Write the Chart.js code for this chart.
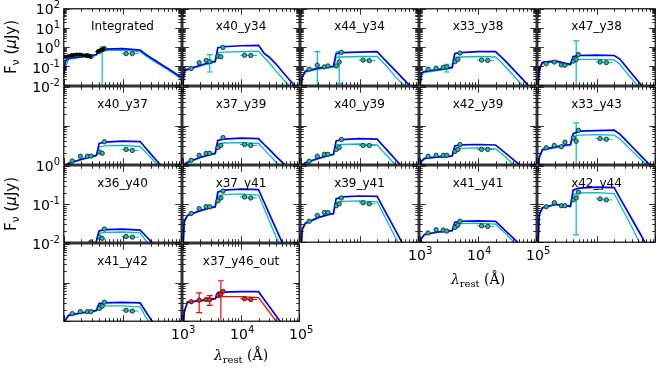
<!DOCTYPE html>
<html>
<head>
<meta charset="utf-8">
<script src="https://cdn.jsdelivr.net/npm/chart.js@4.4.1/dist/chart.umd.min.js"></script>
<style>
  body { margin: 0; width: 664px; height: 370px; background: #fff; position: relative; overflow: hidden;
         font-family: "DejaVu Sans", sans-serif; color: #000; }
  canvas { position: absolute; }
  .txt { position: absolute; white-space: nowrap; }
  .sup { font-size: 10px; position: relative; top: -6px; }
  .ttl { font-size: 12px; line-height: 12px; transform: translateX(-50%); }
  .tick { font-size: 14px; line-height: 14px; }
  .ylab { font-size: 15px; line-height: 16px; transform: translate(-50%, -50%) rotate(-90deg); }
  .xlab { font-family: "DejaVu Serif", serif; font-size: 14px; line-height: 16px; transform: translateX(-50%); }
  .xlab sub { font-size: 10px; vertical-align: -3px; }
  .ylab sub { font-size: 11px; vertical-align: -3px; }
</style>
</head>
<body>
<script>
// model wavelength grid (Å, rest frame) and photometric band centres / edges
const wave = [1000, 1060, 1200, 2000, 3000, 3600, 3800, 4000, 5000, 10000, 20000, 25000, 30000, 40000, 60000, 100000];
const bands = [1390, 1910, 2520, 2900, 4030, 4510, 4910, 11500, 14700];
const bandLo = [1300, 1780, 2380, 2750, 3800, 4300, 4700, 9600, 12600];
const bandHi = [1480, 2050, 2680, 3050, 4250, 4720, 5150, 13200, 18800];

// integrated photometry (black points)
const intWave = [1080, 1200, 1350, 1500, 1650, 1850, 2050, 2300, 2550, 2800, 3750, 4050, 4400, 4750];
const intFlux = [0.30, 0.34, 0.36, 0.38, 0.40, 0.40, 0.38, 0.36, 0.35, 0.33, 0.57, 0.65, 0.72, 0.81];

// m_ = blue model, c_ = cyan (red) model, p_ = measured points, e_ = error bars [wave, low, high]
const m_int = [0.0385, 0.177, 0.252, 0.319, 0.358, 0.403, 0.573, 0.683, 0.768, 0.814, 0.683, 0.403, 0.283, 0.158, 0.073, 0.026];
const c_int = [0.030, 0.087, 0.224, 0.283, 0.319, 0.358, 0.48, 0.573, 0.644, 0.683, 0.573, 0.338, 0.238, 0.132, 0.062, 0.0215];
const p_int = [0.358, 0.358, 0.358, 0.318, 0.573, 0.724, 0.814, 0.453, 0.453];
const e_int = [[4510, 0.001, 1.03]];

const m_x40_y34 = [0.008, 0.055, 0.069, 0.111, 0.158, 0.177, 0.403, 0.916, 1.03, 1.16, 1.23, 0.466, 0.309, 0.128, 0.0296, 0.005];
const c_x40_y34 = [0.008, 0.049, 0.062, 0.099, 0.14, 0.158, 0.283, 0.51, 0.54, 0.57, 0.607, 0.283, 0.158, 0.055, 0.0135, 0.003];
const p_x40_y34 = [0.075, 0.152, 0.199, 0.171, 0.330, 0.308, 0.948, 0.371, 0.358];
const e_x40_y34 = [[2900, 0.049, 0.40]];

const m_x44_y34 = [0.005, 0.027, 0.055, 0.078, 0.093, 0.098, 0.224, 0.453, 0.509, 0.54, 0.573, 0.275, 0.153, 0.062, 0.017, 0.003];
const c_x44_y34 = [0.005, 0.025, 0.049, 0.069, 0.082, 0.087, 0.158, 0.283, 0.30, 0.318, 0.318, 0.158, 0.087, 0.030, 0.0085, 0.002];
const p_x44_y34 = [0.069, 0.111, 0.091, 0.102, 0.102, 0.163, 0.527, 0.206, 0.192];
const e_x44_y34 = [[1910, 0.005, 0.573], [4510, 0.012, 0.573]];

const m_x33_y38 = [0.005, 0.043, 0.052, 0.066, 0.078, 0.087, 0.224, 0.453, 0.51, 0.573, 0.573, 0.30, 0.177, 0.069, 0.019, 0.003];
const c_x33_y38 = [0.005, 0.035, 0.046, 0.058, 0.069, 0.078, 0.158, 0.283, 0.30, 0.318, 0.30, 0.158, 0.087, 0.034, 0.0085, 0.002];
const p_x33_y38 = [0.069, 0.078, 0.085, 0.091, 0.171, 0.224, 0.48, 0.206, 0.199];
const e_x33_y38 = [[2900, 0.049, 0.125]];

const m_x47_y38 = [0.005, 0.069, 0.158, 0.188, 0.14, 0.125, 0.199, 0.318, 0.358, 0.38, 0.358, 0.234, 0.118, 0.040, 0.009, 0.002];
const c_x47_y38 = [0.005, 0.06, 0.14, 0.167, 0.125, 0.111, 0.158, 0.211, 0.224, 0.224, 0.211, 0.125, 0.062, 0.0215, 0.005, 0.001];
const p_x47_y38 = [0.135, 0.163, 0.115, 0.111, 0.183, 0.224, 0.403, 0.163, 0.152];
const e_x47_y38 = [[4510, 0.005, 2.08]];

const m_x40_y37 = [0.5, 0.9, 1.06, 1.34, 1.6, 1.70, 2.41, 3.43, 3.74, 3.97, 3.85, 2.59, 1.88, 1.14, 0.57, 0.23];
const c_x40_y37 = [0.5, 0.8, 1.03, 1.30, 1.55, 1.65, 2.14, 2.79, 2.96, 3.05, 2.87, 2.02, 1.51, 0.94, 0.5, 0.2];
const p_x40_y37 = [1.21, 1.60, 1.60, 1.62, 2.06, 1.91, 3.79, 2.41, 2.27];

const m_x37_y39 = [0.5, 1.0, 1.12, 1.51, 1.80, 1.91, 2.87, 4.09, 4.46, 4.73, 4.59, 3.23, 2.48, 1.60, 0.89, 0.3];
const c_x37_y39 = [0.5, 0.9, 1.09, 1.46, 1.75, 1.85, 2.56, 3.33, 3.53, 3.63, 3.43, 2.41, 1.80, 1.12, 0.6, 0.25];
const p_x37_y39 = [1.26, 1.70, 1.91, 1.91, 2.71, 3.05, 4.87, 3.23, 3.05];

const m_x40_y39 = [0.5, 0.95, 1.09, 1.42, 1.70, 1.80, 2.71, 3.97, 4.33, 4.59, 4.46, 3.05, 2.25, 1.38, 0.70, 0.25];
const c_x40_y39 = [0.5, 0.9, 1.06, 1.38, 1.65, 1.75, 2.41, 3.14, 3.23, 3.33, 3.14, 2.14, 1.60, 1.0, 0.55, 0.2];
const p_x40_y39 = [1.19, 1.60, 1.80, 1.80, 2.41, 2.71, 4.33, 3.05, 3.05];

const m_x42_y39 = [0.5, 1.19, 1.42, 1.55, 1.60, 1.65, 2.27, 2.96, 3.14, 3.23, 3.14, 2.38, 1.91, 1.33, 0.81, 0.3];
const c_x42_y39 = [0.5, 1.1, 1.38, 1.51, 1.55, 1.60, 2.02, 2.48, 2.56, 2.63, 2.48, 1.91, 1.51, 1.0, 0.6, 0.25];
const p_x42_y39 = [1.60, 1.70, 1.70, 1.70, 2.14, 2.41, 3.23, 2.41, 2.41];

const m_x33_y43 = [0.5, 1.51, 2.41, 2.79, 3.14, 3.23, 4.59, 6.16, 7.13, 7.34, 7.56, 5.98, 4.49, 2.87, 1.53, 0.69];
const c_x33_y43 = [0.5, 1.4, 2.27, 2.63, 2.96, 3.05, 3.97, 5.02, 5.64, 5.81, 5.64, 4.46, 3.43, 2.21, 1.23, 0.59];
const p_x33_y43 = [2.66, 3.05, 2.83, 3.70, 4.79, 3.92, 7.5, 4.59, 4.41];
const e_x33_y43 = [[4510, 0.5, 11.7]];

const m_x36_y40 = [0.002, 0.002, 0.003, 0.004, 0.006, 0.0109, 0.0155, 0.0197, 0.0214, 0.0221, 0.0208, 0.0145, 0.0108, 0.0068, 0.004, 0.002];
const c_x36_y40 = [0.002, 0.002, 0.003, 0.004, 0.0055, 0.0105, 0.0138, 0.0170, 0.0180, 0.0185, 0.0175, 0.0109, 0.0079, 0.005, 0.003, 0.002];
const p_x36_y40 = [0.005, 0.006, 0.007, 0.0101, 0.0136, 0.0126, 0.0221, 0.0141, 0.0136];

const m_x37_y41 = [0.005, 0.0353, 0.0502, 0.0673, 0.0803, 0.0851, 0.128, 0.205, 0.231, 0.245, 0.238, 0.111, 0.0595, 0.0223, 0.0057, 0.001];
const c_x37_y41 = [0.005, 0.033, 0.0487, 0.0653, 0.0778, 0.0825, 0.114, 0.162, 0.177, 0.183, 0.172, 0.076, 0.0392, 0.0138, 0.004, 0.001];
const p_x37_y41 = [0.0565, 0.0757, 0.0851, 0.0851, 0.121, 0.144, 0.218, 0.153, 0.144];

const m_x39_y41 = [0.004, 0.0221, 0.0314, 0.0446, 0.0532, 0.0565, 0.0903, 0.136, 0.153, 0.162, 0.158, 0.0832, 0.0496, 0.0219, 0.0069, 0.0015];
const c_x39_y41 = [0.004, 0.021, 0.0305, 0.0433, 0.0517, 0.0548, 0.0778, 0.108, 0.117, 0.121, 0.114, 0.0581, 0.0337, 0.0142, 0.0045, 0.001];
const p_x39_y41 = [0.0353, 0.0502, 0.0599, 0.0599, 0.0903, 0.101, 0.144, 0.108, 0.101];

const m_x41_y41 = [0.004, 0.0123, 0.016, 0.0185, 0.0196, 0.0202, 0.0263, 0.0333, 0.0353, 0.0363, 0.0353, 0.0254, 0.0195, 0.0129, 0.0072, 0.003];
const c_x41_y41 = [0.004, 0.012, 0.0155, 0.018, 0.0191, 0.0196, 0.0241, 0.0287, 0.0305, 0.0314, 0.0296, 0.0214, 0.0165, 0.0106, 0.006, 0.0025];
const p_x41_y41 = [0.0175, 0.0212, 0.0208, 0.0196, 0.0244, 0.0279, 0.0353, 0.0268, 0.0259];

const m_x42_y44 = [0.005, 0.0532, 0.0803, 0.0985, 0.0903, 0.0875, 0.144, 0.231, 0.259, 0.275, 0.267, 0.145, 0.088, 0.0404, 0.0135, 0.003];
const c_x42_y44 = [0.005, 0.05, 0.0778, 0.0955, 0.0875, 0.0851, 0.121, 0.177, 0.194, 0.199, 0.188, 0.0978, 0.0574, 0.0249, 0.007, 0.002];
const p_x42_y44 = [0.0851, 0.108, 0.0903, 0.0903, 0.128, 0.144, 0.205, 0.136, 0.128];
const e_x42_y44 = [[4510, 0.0155, 0.16]];

const m_x41_y42 = [0.004, 0.0106, 0.0142, 0.0165, 0.018, 0.0191, 0.0241, 0.0287, 0.0296, 0.0305, 0.0296, 0.0176, 0.0115, 0.0059, 0.003, 0.001];
const c_x41_y42 = [0.004, 0.0103, 0.0138, 0.016, 0.0175, 0.0185, 0.0214, 0.0241, 0.0248, 0.0248, 0.0234, 0.0126, 0.0089, 0.005, 0.003, 0.001];
const p_x41_y42 = [0.0157, 0.0177, 0.0177, 0.0177, 0.0214, 0.0245, 0.031, 0.0191, 0.0183];

const m_x37_y46 = [0.004, 0.018, 0.0314, 0.0343, 0.0374, 0.0385, 0.0459, 0.0548, 0.0565, 0.0581, 0.0581, 0.0366, 0.0251, 0.0139, 0.006, 0.002];
const c_x37_y46 = [0.004, 0.017, 0.0305, 0.0333, 0.0363, 0.0374, 0.0409, 0.0419, 0.0433, 0.0433, 0.0409, 0.026, 0.018, 0.01, 0.0045, 0.0015];
const p_x37_y46 = [0.0318, 0.0349, 0.0363, 0.0363, 0.0468, 0.0508, 0.0591, 0.0379, 0.0363];
const e_x37_y46 = [[1910, 0.0167, 0.0539], [2900, 0.0256, 0.0459], [4510, 0.005, 0.111]];

// y-axis limits of each row of panels
const rowYMin = [0.01, 1, 0.01, 0.01];
const rowYMax = [100, 100, 1, 1];

const panels = [
  { name: 'Integrated', row: 0, col: 0, blue: m_int, fit: c_int, pts: p_int, err: e_int },
  { name: 'x40_y34', row: 0, col: 1, blue: m_x40_y34, fit: c_x40_y34, pts: p_x40_y34, err: e_x40_y34 },
  { name: 'x44_y34', row: 0, col: 2, blue: m_x44_y34, fit: c_x44_y34, pts: p_x44_y34, err: e_x44_y34 },
  { name: 'x33_y38', row: 0, col: 3, blue: m_x33_y38, fit: c_x33_y38, pts: p_x33_y38, err: e_x33_y38 },
  { name: 'x47_y38', row: 0, col: 4, blue: m_x47_y38, fit: c_x47_y38, pts: p_x47_y38, err: e_x47_y38 },
  { name: 'x40_y37', row: 1, col: 0, blue: m_x40_y37, fit: c_x40_y37, pts: p_x40_y37, err: [] },
  { name: 'x37_y39', row: 1, col: 1, blue: m_x37_y39, fit: c_x37_y39, pts: p_x37_y39, err: [] },
  { name: 'x40_y39', row: 1, col: 2, blue: m_x40_y39, fit: c_x40_y39, pts: p_x40_y39, err: [] },
  { name: 'x42_y39', row: 1, col: 3, blue: m_x42_y39, fit: c_x42_y39, pts: p_x42_y39, err: [] },
  { name: 'x33_y43', row: 1, col: 4, blue: m_x33_y43, fit: c_x33_y43, pts: p_x33_y43, err: e_x33_y43 },
  { name: 'x36_y40', row: 2, col: 0, blue: m_x36_y40, fit: c_x36_y40, pts: p_x36_y40, err: [] },
  { name: 'x37_y41', row: 2, col: 1, blue: m_x37_y41, fit: c_x37_y41, pts: p_x37_y41, err: [] },
  { name: 'x39_y41', row: 2, col: 2, blue: m_x39_y41, fit: c_x39_y41, pts: p_x39_y41, err: [] },
  { name: 'x41_y41', row: 2, col: 3, blue: m_x41_y41, fit: c_x41_y41, pts: p_x41_y41, err: [] },
  { name: 'x42_y44', row: 2, col: 4, blue: m_x42_y44, fit: c_x42_y44, pts: p_x42_y44, err: e_x42_y44 },
  { name: 'x41_y42', row: 3, col: 0, blue: m_x41_y42, fit: c_x41_y42, pts: p_x41_y42, err: [] },
  { name: 'x37_y46_out', row: 3, col: 1, blue: m_x37_y46, fit: c_x37_y46, pts: p_x37_y46, err: e_x37_y46, red: true }
];

// figure geometry
const colLeft = [63, 182, 300, 419, 537];
const colRight = [182, 300, 419, 537, 656];
const rowTop = [8, 86, 165, 243];
const rowBottom = [86, 165, 243, 322];
const PAD = 4;

const xy = (xs, ys) => xs.map((x, i) => ({ x, y: ys[i] }));

// matplotlib-style frame with inward ticks on all four sides
const framePlugin = {
  id: 'frame',
  afterDatasetsDraw(chart) {
    const { ctx, chartArea: a, scales: { x, y } } = chart;
    ctx.save();
    ctx.strokeStyle = '#000';
    ctx.lineWidth = 0.8;
    ctx.beginPath();
    for (let d = 3; d <= 5; d++) {
      for (let k = 1; k <= 9; k++) {
        const v = k * Math.pow(10, d);
        if (v > x.max * 1.0001) break;
        const px = Math.round(x.getPixelForValue(v)) + 0.5;
        const len = k === 1 ? 6 : 3;
        ctx.moveTo(px, a.bottom); ctx.lineTo(px, a.bottom - len);
        ctx.moveTo(px, a.top); ctx.lineTo(px, a.top + len);
      }
    }
    const lo = Math.round(Math.log10(y.min)), hi = Math.round(Math.log10(y.max));
    for (let d = lo; d <= hi; d++) {
      for (let k = 1; k <= 9; k++) {
        const v = k * Math.pow(10, d);
        if (v > y.max * 1.0001) break;
        const py = Math.round(y.getPixelForValue(v)) + 0.5;
        const len = k === 1 ? 6 : 3;
        ctx.moveTo(a.left, py); ctx.lineTo(a.left + len, py);
        ctx.moveTo(a.right, py); ctx.lineTo(a.right - len, py);
      }
    }
    ctx.stroke();
    ctx.lineWidth = 1.2;
    ctx.strokeRect(a.left, a.top, a.right - a.left, a.bottom - a.top);
    ctx.restore();
  }
};

// vertical error bars plus horizontal band-width bars under the points
function errPlugin(bars, pts, color) {
  return {
    id: 'errbars',
    beforeDatasetsDraw(chart) {
      const { ctx, chartArea: a, scales: { x, y } } = chart;
      ctx.save();
      ctx.beginPath();
      ctx.rect(a.left, a.top, a.right - a.left, a.bottom - a.top);
      ctx.clip();
      ctx.strokeStyle = color;
      ctx.lineWidth = 1;
      ctx.beginPath();
      pts.forEach((v, i) => {
        const py = y.getPixelForValue(v);
        ctx.moveTo(x.getPixelForValue(bandLo[i]), py);
        ctx.lineTo(x.getPixelForValue(bandHi[i]), py);
      });
      ctx.stroke();
      ctx.lineWidth = 1.2;
      ctx.beginPath();
      for (const [w, lo, hi] of bars) {
        const px = x.getPixelForValue(w);
        const y0 = y.getPixelForValue(lo), y1 = y.getPixelForValue(hi);
        ctx.moveTo(px, y0); ctx.lineTo(px, y1);
        ctx.moveTo(px - 3, y0); ctx.lineTo(px + 3, y0);
        ctx.moveTo(px - 3, y1); ctx.lineTo(px + 3, y1);
      }
      ctx.stroke();
      ctx.restore();
    }
  };
}

function addText(cls, html, css) {
  const d = document.createElement('div');
  d.className = 'txt ' + cls;
  d.innerHTML = html;
  Object.assign(d.style, css);
  document.body.appendChild(d);
}

const pow10 = e => '10<span class="sup">' + e + '</span>';

function rowPixel(row, v) {
  const a = Math.log10(rowYMin[row]), b = Math.log10(rowYMax[row]);
  return rowBottom[row] - (Math.log10(v) - a) / (b - a) * (rowBottom[row] - rowTop[row]);
}

for (const p of panels) {
  const left = colLeft[p.col], top = rowTop[p.row];
  const w = colRight[p.col] - left, h = rowBottom[p.row] - top;
  const cv = document.createElement('canvas');
  cv.width = w + 2 * PAD; cv.height = h + 2 * PAD;
  cv.style.left = (left - PAD) + 'px'; cv.style.top = (top - PAD) + 'px';
  document.body.appendChild(cv);

  const fitColor = p.red ? '#ff0000' : '#00bfbf';
  const ptColor = p.red ? '#ff1a1a' : '#22b5aa';
  const datasets = [];
  if (p.name === 'Integrated') {
    datasets.push({ data: xy(intWave, intFlux), pointRadius: 1.8, pointBackgroundColor: '#000',
                    pointBorderColor: '#000', pointBorderWidth: 0.5, showLine: false, clip: 0 });
  }
  datasets.push(
    { data: xy(bands, p.pts), pointRadius: 2.2, pointBackgroundColor: ptColor,
      pointBorderColor: '#102020', pointBorderWidth: 0.8, showLine: false, clip: 0 },
    { data: xy(wave, p.blue), showLine: true, borderColor: '#0000ff', borderWidth: 1.7, pointRadius: 0, clip: 0 },
    { data: xy(wave, p.fit), showLine: true, borderColor: fitColor, borderWidth: 1.3, pointRadius: 0, clip: 0 }
  );

  new Chart(cv, {
    type: 'scatter',
    data: { datasets },
    options: {
      responsive: false,
      animation: false,
      events: [],
      layout: { padding: PAD },
      plugins: { legend: { display: false }, tooltip: { enabled: false } },
      scales: {
        x: { type: 'logarithmic', min: 1000, max: 100000, display: false },
        y: { type: 'logarithmic', min: rowYMin[p.row], max: rowYMax[p.row], display: false }
      }
    },
    plugins: [errPlugin(p.err, p.pts, fitColor), framePlugin]
  });

  addText('ttl', p.name, { left: (left + w / 2) + 'px', top: (top + 12) + 'px' });
}

// y tick labels on the left column
const leftLabels = [[0, [2, 1, 0, -1, -2]], [1, [0]], [2, [-1, -2]]];
for (const [row, exps] of leftLabels) {
  for (const e of exps) {
    const py = rowPixel(row, Math.pow(10, e));
    addText('tick', pow10(e), { right: (664 - 60) + 'px', top: (py - 6) + 'px' });
  }
}

// x tick labels on exposed bottom edges
const bottomLabels = [[3, 1], [2, 3]];
for (const [row, col] of bottomLabels) {
  const l = colLeft[col], r = colRight[col];
  [3, 4, 5].forEach((e, i) => {
    addText('tick', pow10(e), { left: (l + (r - l) * i / 2) + 'px', top: (rowBottom[row] + 5) + 'px',
                                transform: 'translateX(-45%)' });
  });
}

// axis titles
const yLabel = 'F<sub>ν</sub> (<i>μ</i>Jy)';
addText('ylab', yLabel, { left: '13px', top: '47px' });
addText('ylab', yLabel, { left: '13px', top: '204px' });
const xLabel = '<i>λ</i><sub>rest</sub> (Å)';
addText('xlab', xLabel, { left: '241px', top: '347px' });
addText('xlab', xLabel, { left: '478px', top: '271px' });
</script>
</body>
</html>
